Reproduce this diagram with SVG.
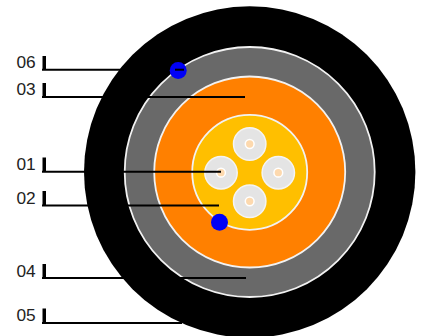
<svg xmlns="http://www.w3.org/2000/svg" width="423" height="336" viewBox="0 0 423 336">
<style>
.ring{stroke:#f2f2f2;stroke-width:1.8}
.fib{fill:#e4e4e4;stroke:#f4f4f4;stroke-width:1.5}
.core{fill:#fdd9ae;stroke:#fff;stroke-width:1.5}
.lead{stroke:#000;stroke-width:2;fill:none}
.bar{fill:#000}
.lab{font:17.3px "Liberation Sans",Arial,sans-serif;fill:#222}
.dot{fill:#0000f5}
</style>
<rect width="423" height="336" fill="#fff"/>
<g id="cable">
<circle cx="249.7" cy="172" r="165.7" fill="#000"/>
<circle class="ring" cx="249.7" cy="172" r="125" fill="#696969"/>
<circle class="ring" cx="249.7" cy="172" r="95.5" fill="#ff8000"/>
<circle class="ring" cx="249.7" cy="172.3" r="57.5" fill="#ffbf00"/>
</g>
<g id="fibers">
<g id="fiber-top"><circle class="fib" cx="249.7" cy="144" r="16.2"/><circle class="core" cx="249.7" cy="144" r="4.4"/></g>
<g id="fiber-left"><circle class="fib" cx="221" cy="172.7" r="16.2"/><circle class="core" cx="221" cy="172.7" r="4.4"/></g>
<g id="fiber-right"><circle class="fib" cx="278.3" cy="172.7" r="16.2"/><circle class="core" cx="278.3" cy="172.7" r="4.4"/></g>
<g id="fiber-bottom"><circle class="fib" cx="249.7" cy="201.3" r="16.2"/><circle class="core" cx="249.7" cy="201.3" r="4.4"/></g>
</g>
<g id="connectors">
<path class="lead" d="M42 69.7H175M42 97H245M42 171.8H221M42 205.5H219M42 278H246M42 323H182"/>
</g>
<g id="label-06"><rect class="bar" x="42.5" y="56" width="3.5" height="14"/><text class="lab" x="16.5" y="68">06</text></g>
<g id="label-03"><rect class="bar" x="42.5" y="83" width="3.5" height="14"/><text class="lab" x="16.5" y="95">03</text></g>
<g id="label-01"><rect class="bar" x="42.5" y="157.5" width="3.5" height="14.5"/><text class="lab" x="16.5" y="170">01</text></g>
<g id="label-02"><rect class="bar" x="42.5" y="191" width="3.5" height="15"/><text class="lab" x="16.5" y="204">02</text></g>
<g id="label-04"><rect class="bar" x="42.5" y="264" width="3.5" height="14"/><text class="lab" x="16.5" y="277">04</text></g>
<g id="label-05"><rect class="bar" x="42.5" y="308.5" width="3.5" height="14.5"/><text class="lab" x="16.5" y="321">05</text></g>
<g id="dot-top"><circle class="dot" cx="178.2" cy="70.5" r="8.5"/><path class="lead" d="M175 69.7H184"/></g>
<g id="dot-bottom"><circle class="dot" cx="219.5" cy="222.3" r="8.5"/></g>
</svg>
